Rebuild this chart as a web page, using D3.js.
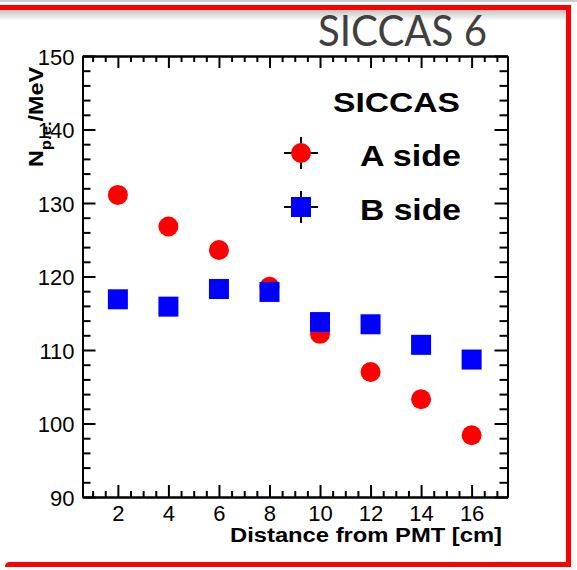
<!DOCTYPE html>
<html>
<head>
<meta charset="utf-8">
<script src="https://cdn.jsdelivr.net/npm/d3@7"></script>
<style>
  body { margin: 0; background: #fff; }
  svg { display: block; }
  .axis path, .axis line { stroke: #000; stroke-width: 2; }
  .axis text { font-family: "Liberation Sans", Arial, sans-serif; font-size: 22px; fill: #000; }
</style>
</head>
<body>
<svg width="577" height="570"></svg>
<script>
// data
const distance = [2, 4, 6, 8, 10, 12, 14, 16]
const aSide = [131.1, 126.8, 123.6, 118.6, 112.2, 107.0, 103.3, 98.4]
const bSide = [116.9, 115.9, 118.3, 117.9, 113.8, 113.5, 110.7, 108.7]
const xTicks = [2, 4, 6, 8, 10, 12, 14, 16]
const yTicks = [90, 100, 110, 120, 130, 140, 150]
const legendNames = ["A side", "B side"]

const svg = d3.select("svg")

// frame around the slide picture
svg.append("rect").attr("x", 0).attr("y", 0).attr("width", 577).attr("height", 2).attr("fill", "#c9cdd2")

const grad = svg.append("defs").append("linearGradient")
  .attr("id", "shade").attr("x1", 0).attr("y1", 0).attr("x2", 0).attr("y2", 1)
grad.append("stop").attr("offset", "0%").attr("stop-color", "#c4c4c4")
grad.append("stop").attr("offset", "100%").attr("stop-color", "#fff")
svg.append("rect").attr("x", 0).attr("y", 10).attr("width", 566).attr("height", 11).attr("fill", "url(#shade)")

svg.append("path")
  .attr("d", "M0,7.5 H568.5 V564.5 H10 Q7.5,564.5 7.5,567")
  .attr("fill", "none")
  .attr("stroke", "#ff0000")
  .attr("stroke-width", 5)

svg.append("text")
  .attr("x", 318).attr("y", 46)
  .attr("font-family", "Lato, 'Open Sans', sans-serif")
  .attr("font-size", 43)
  .attr("fill", "#404040")
  .attr("textLength", 169).attr("lengthAdjust", "spacingAndGlyphs")
  .text("SICCAS 6")

// plot area
const plotLeft = 82.5, plotRight = 507.5, plotTop = 56, plotBottom = 497

const x = d3.scaleLinear().domain([0.6, 17.42]).range([plotLeft, plotRight])
const y = d3.scaleLinear().domain([90, 150]).range([plotBottom, plotTop])

const xMinor = d3.range(1, 17.5, 0.5).filter(v => !xTicks.includes(v))
const yMinor = d3.range(90, 150, 2).filter(v => !yTicks.includes(v))

function drawAxis(axisFn, scale, major, minor, majorLen, minorLen, pos, labels) {
  const g = svg.append("g").attr("class", "axis").attr("transform", pos)
  g.call(axisFn(scale).tickValues(minor).tickSizeInner(-minorLen).tickSizeOuter(0).tickFormat(""))
  const g2 = svg.append("g").attr("class", "axis").attr("transform", pos)
  g2.call(axisFn(scale).tickValues(major).tickSizeInner(-majorLen).tickSizeOuter(0).tickPadding(8)
    .tickFormat(labels ? d3.format("d") : ""))
  return g2
}

const xb = drawAxis(d3.axisBottom, x, xTicks, xMinor, 12, 6, `translate(0,${plotBottom})`, true)
xb.selectAll("text").attr("y", 23.5).attr("dy", 0)
drawAxis(d3.axisTop, x, xTicks, xMinor, 12, 6, `translate(0,${plotTop})`, false)
const yl = drawAxis(d3.axisLeft, y, yTicks, yMinor, 13, 8, `translate(${plotLeft},0)`, true)
yl.selectAll("text").attr("x", -8).attr("dy", "0.38em")
drawAxis(d3.axisRight, y, yTicks, yMinor, 13, 8, `translate(${plotRight},0)`, false)

// axis titles
svg.append("text")
  .attr("x", 502).attr("y", 542)
  .attr("text-anchor", "end")
  .attr("font-family", "'Liberation Sans', Arial, sans-serif")
  .attr("font-weight", "bold")
  .attr("font-size", 20)
  .attr("textLength", 272)
  .attr("lengthAdjust", "spacingAndGlyphs")
  .text("Distance from PMT [cm]")

const yTitle = svg.append("text")
  .attr("transform", "translate(43,167) rotate(-90)")
  .attr("font-family", "'Liberation Sans', Arial, sans-serif")
  .attr("font-weight", "bold")
  .attr("font-size", 21)
  .attr("textLength", 100).attr("lengthAdjust", "spacingAndGlyphs")
yTitle.append("tspan").text("N")
yTitle.append("tspan").attr("font-size", 15).attr("dy", 8).text("p.e.")
yTitle.append("tspan").attr("dy", -8).text("/MeV")

// points: A side circles first, B side squares on top
svg.selectAll("circle.a")
  .data(distance)
  .enter()
  .append("circle")
  .attr("class", "a")
  .attr("cx", d => x(d))
  .attr("cy", (d, i) => y(aSide[i]))
  .attr("r", 10)
  .attr("fill", "#ff0000")

svg.selectAll("rect.b")
  .data(distance)
  .enter()
  .append("rect")
  .attr("class", "b")
  .attr("x", d => x(d) - 10)
  .attr("y", (d, i) => y(bSide[i]) - 10)
  .attr("width", 20)
  .attr("height", 20)
  .attr("fill", "#0000ff")

// legend
const legendFont = "'Liberation Sans', Arial, sans-serif"
svg.append("text")
  .attr("x", 333).attr("y", 112)
  .attr("font-family", legendFont).attr("font-weight", "bold").attr("font-size", 28)
  .attr("textLength", 127).attr("lengthAdjust", "spacingAndGlyphs")
  .text("SICCAS")

const legendRows = svg.selectAll("g.legend-row")
  .data(legendNames)
  .enter()
  .append("g")
  .attr("class", "legend-row")
  .attr("transform", (d, i) => `translate(301, ${153 + i * 54})`)

legendRows.append("line").attr("x1", -17).attr("x2", 17).attr("stroke", "#000").attr("stroke-width", 2)
legendRows.append("line").attr("y1", -16).attr("y2", 16).attr("stroke", "#000").attr("stroke-width", 2)
legendRows.filter((d, i) => i === 0).append("circle").attr("r", 10).attr("fill", "#ff0000")
legendRows.filter((d, i) => i === 1).append("rect")
  .attr("x", -10).attr("y", -10).attr("width", 20).attr("height", 20).attr("fill", "#0000ff")

legendRows.append("text")
  .attr("x", 59).attr("y", 13)
  .attr("font-family", legendFont).attr("font-weight", "bold").attr("font-size", 30)
  .attr("textLength", 101).attr("lengthAdjust", "spacingAndGlyphs")
  .text(d => d)
</script>
</body>
</html>
